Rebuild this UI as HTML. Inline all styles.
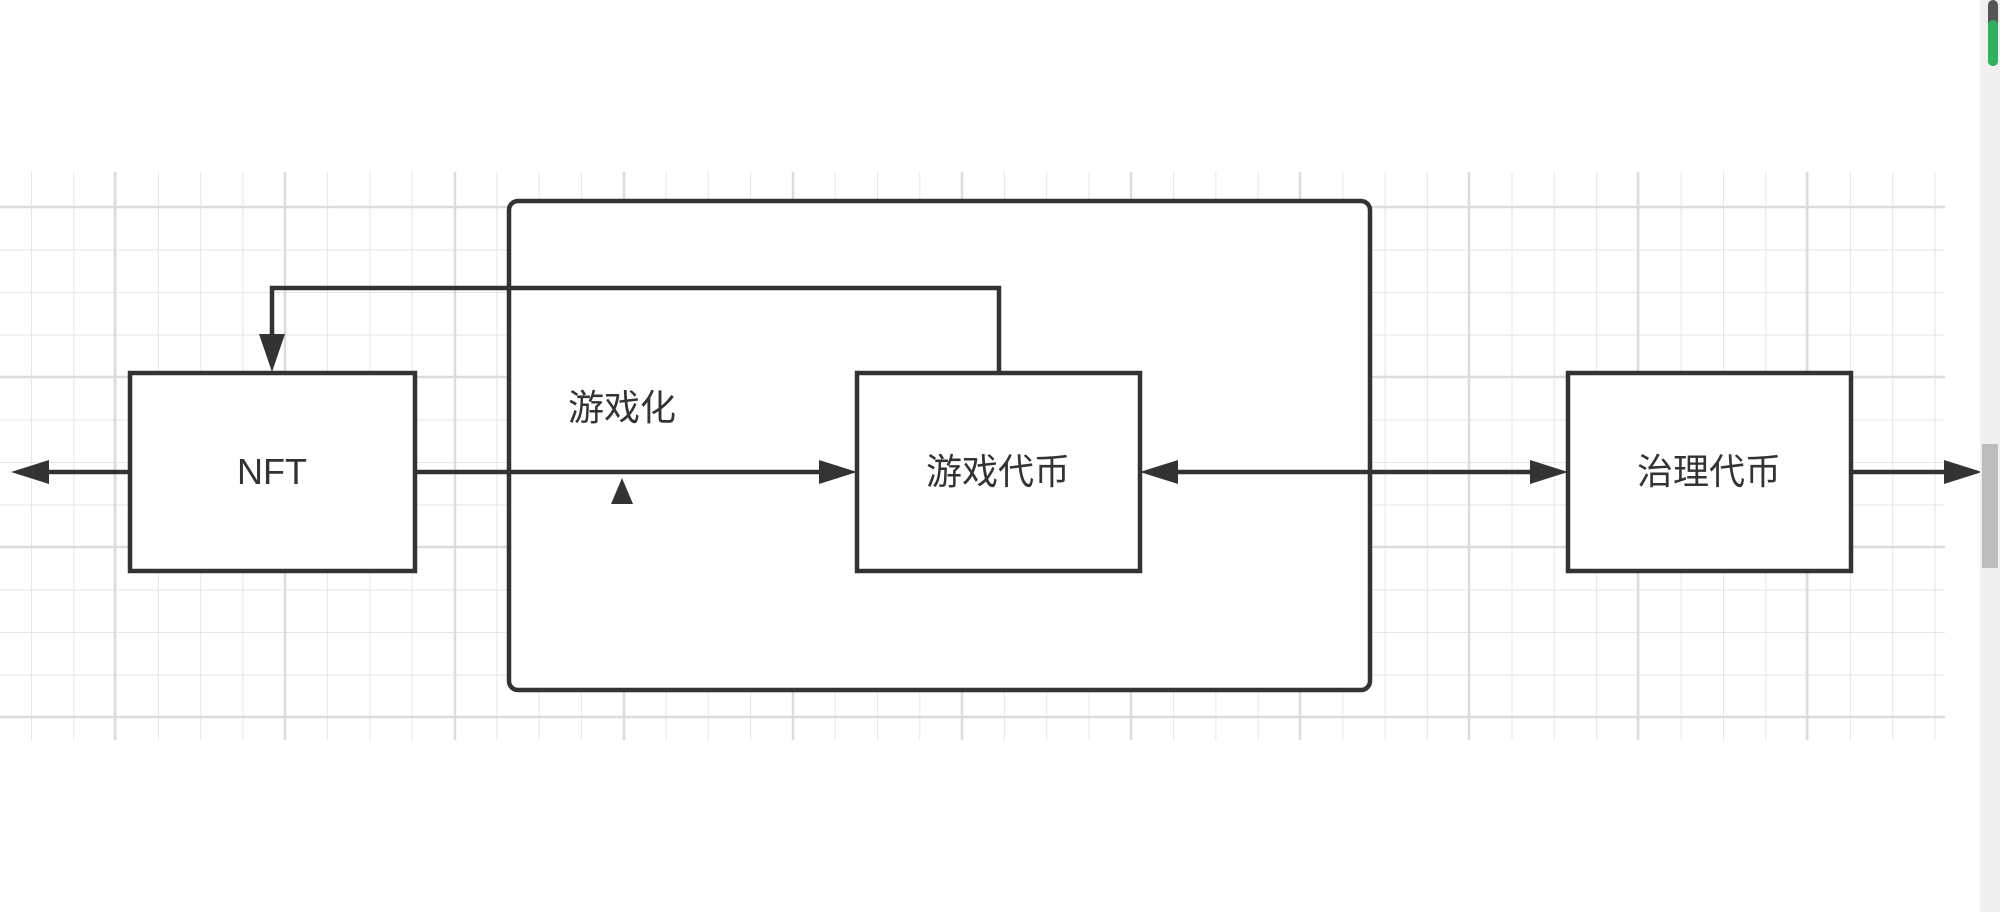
<!DOCTYPE html>
<html><head><meta charset="utf-8"><style>
html,body{margin:0;padding:0;background:#fff;width:2000px;height:912px;overflow:hidden}
</style></head><body>
<svg width="2000" height="912" xmlns="http://www.w3.org/2000/svg" style="position:absolute;left:0;top:0">
<defs>
<pattern id="g" x="31" y="207" width="42.3" height="42.5" patternUnits="userSpaceOnUse">
<path d="M0 0V42.5M0 0H42.3" stroke="#e6e6e6" stroke-width="2" fill="none"/>
</pattern>
</defs>
<rect x="0" y="172" width="1945" height="568" fill="url(#g)"/>
<g stroke="#dcdcdc" stroke-width="2.5">
<line x1="115" y1="172" x2="115" y2="740"/><line x1="285" y1="172" x2="285" y2="740"/><line x1="455" y1="172" x2="455" y2="740"/>
<line x1="624" y1="172" x2="624" y2="740"/><line x1="793" y1="172" x2="793" y2="740"/><line x1="962" y1="172" x2="962" y2="740"/>
<line x1="1131" y1="172" x2="1131" y2="740"/><line x1="1300" y1="172" x2="1300" y2="740"/><line x1="1469" y1="172" x2="1469" y2="740"/>
<line x1="1638" y1="172" x2="1638" y2="740"/><line x1="1807" y1="172" x2="1807" y2="740"/>
<line x1="0" y1="207" x2="1945" y2="207"/><line x1="0" y1="377" x2="1945" y2="377"/><line x1="0" y1="547" x2="1945" y2="547"/><line x1="0" y1="717" x2="1945" y2="717"/>
</g>
<g stroke="#333" stroke-width="4.5" fill="none">
<rect x="509" y="201" width="861" height="489" rx="9" fill="#fff"/>
<rect x="130" y="373" width="285" height="198" fill="#fff"/>
<rect x="857" y="373" width="283" height="198" fill="#fff"/>
<rect x="1568" y="373" width="283" height="198" fill="#fff"/>
<line x1="130" y1="472" x2="38" y2="472"/>
<line x1="415" y1="472" x2="830" y2="472"/>
<line x1="1168" y1="472" x2="1540" y2="472"/>
<line x1="1851" y1="472" x2="1955" y2="472"/>
<polyline points="999,373 999,288 272,288 272,336"/>
</g>
<g fill="#333">
<polygon points="11,472 49,460 49,484"/>
<polygon points="857,472 819,460 819,484"/>
<polygon points="1140,472 1178,460 1178,484"/>
<polygon points="1568,472 1530,460 1530,484"/>
<polygon points="1982,472 1944,460 1944,484"/>
<polygon points="272,372 259,334 285,334"/>
<polygon points="622,478 611,504 633,504"/>
</g>
<g font-family="Liberation Sans, Noto Sans CJK SC, sans-serif" font-size="36" fill="#333" text-anchor="middle">
<text x="272" y="484">NFT</text>
<text x="998" y="484">游戏代币</text>
<text x="1709" y="484">治理代币</text>
<text x="622" y="420">游戏化</text>
</g>
<rect x="1980" y="0" width="20" height="912" fill="#f0f0f0"/>
<rect x="1982" y="444" width="16" height="124" fill="#bdbdbd"/>
<rect x="1988" y="0" width="10" height="66" rx="5" fill="#555"/>
<rect x="1988" y="20" width="10" height="46" rx="5" fill="#2fb35a"/>
</svg>
</body></html>
